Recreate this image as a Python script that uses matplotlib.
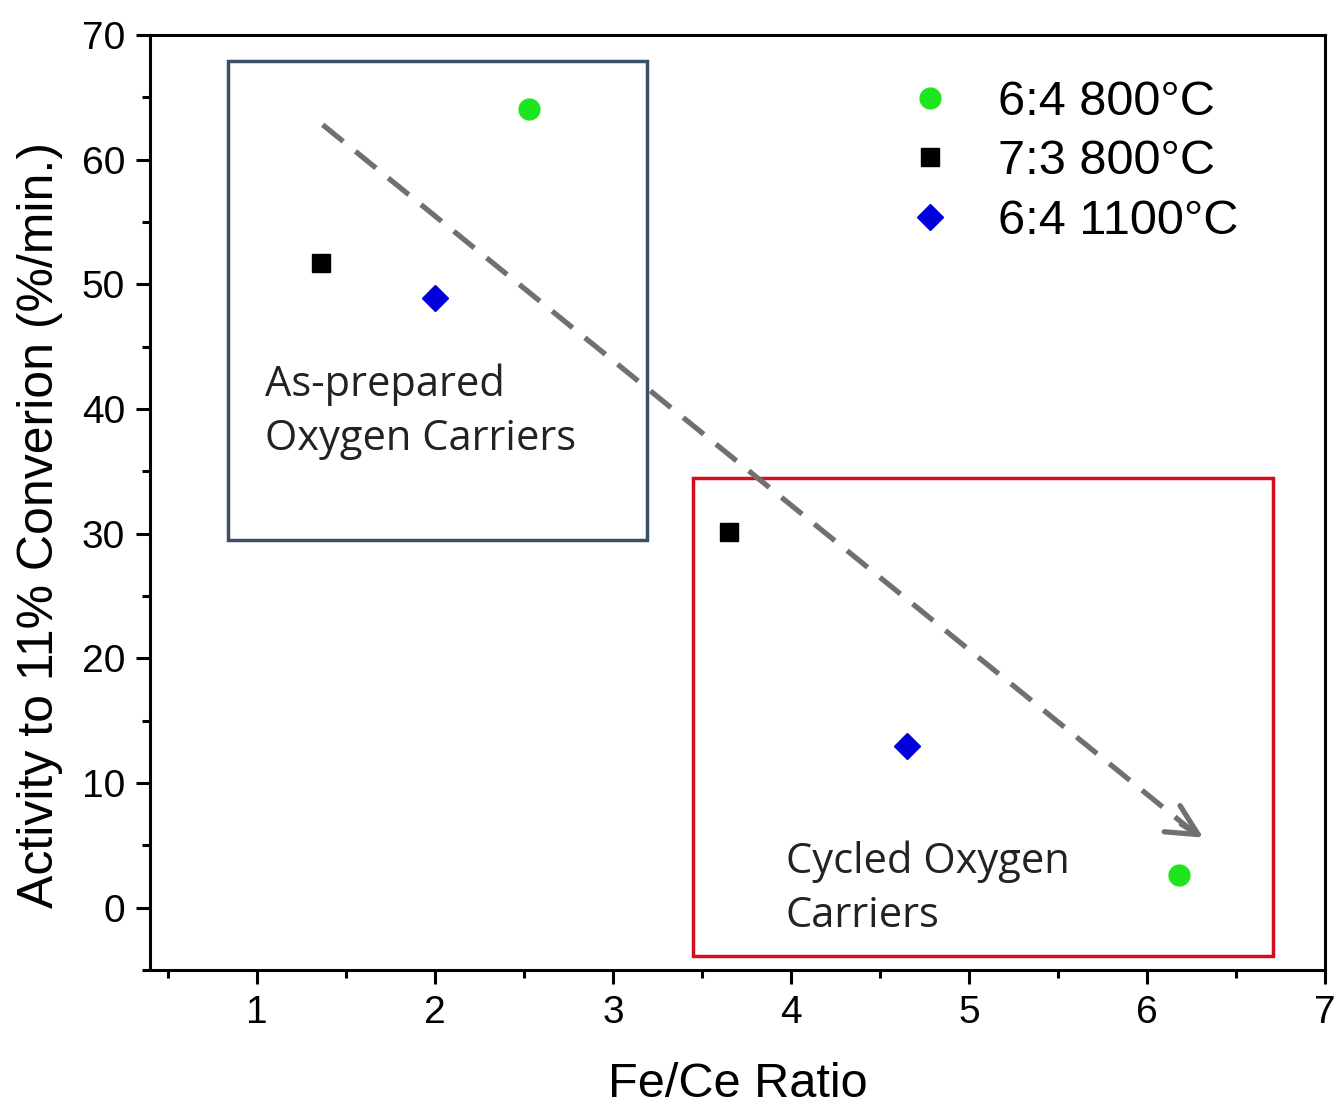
import numpy as np
from matplotlib import pyplot as plt
from matplotlib.patches import Rectangle
from matplotlib.ticker import MultipleLocator

# data
ratio_64_800 = [2.53, 6.18]
act_64_800 = [64.1, 2.6]
ratio_73_800 = [1.36, 3.65]
act_73_800 = [51.7, 30.1]
ratio_64_1100 = [2.0, 4.65]
act_64_1100 = [48.9, 13.0]

labels = ['6:4 800°C', '7:3 800°C', '6:4 1100°C']
xticks = [1, 2, 3, 4, 5, 6, 7]
yticks = [0, 10, 20, 30, 40, 50, 60, 70]

plt.rcParams['font.family'] = ['Liberation Sans', 'DejaVu Sans']

fig = plt.figure(figsize=(13.42, 11.19), dpi=100)
ax = fig.add_axes([0.1118, 0.1332, 0.8755, 0.8355])

ax.plot(ratio_64_800, act_64_800, 'o', color='#1ee61e', ms=15, ls='none', label=labels[0])
ax.plot(ratio_73_800, act_73_800, 's', color='black', ms=13, ls='none', label=labels[1])
ax.plot(ratio_64_1100, act_64_1100, 'D', color='#0000dd', ms=13, ls='none', label=labels[2])

# boxes around the two groups
ax.add_patch(Rectangle((0.84, 29.5), 2.35, 38.4, fill=False, ec='#3b4f66', lw=2.5, zorder=1))
ax.add_patch(Rectangle((3.45, -3.9), 3.26, 38.4, fill=False, ec='#d0101e', lw=2.5, zorder=1))

# trend arrow
ax.plot([1.37, 6.25], [62.8, 6.2], ls=(0, (5, 3)), color='#707070', lw=3.8, zorder=1)
ax.annotate('', xy=(6.33, 5.5), xytext=(6.18, 6.8),
            arrowprops=dict(arrowstyle='->', color='#707070', lw=3.8, mutation_scale=55))

ax.text(1.045, 39.8, 'As-prepared\nOxygen Carriers', fontsize=30, family=['Open Sans', 'DejaVu Sans'],
        color='#222222', va='center', ha='left', linespacing=1.38)
ax.text(3.97, 1.5, 'Cycled Oxygen\nCarriers', fontsize=30, family=['Open Sans', 'DejaVu Sans'],
        color='#222222', va='center', ha='left', linespacing=1.38)

ax.set_xlim(0.4, 7)
ax.set_ylim(-5, 70)
ax.set_xticks(xticks)
ax.set_yticks(yticks)
ax.xaxis.set_minor_locator(MultipleLocator(0.5))
ax.yaxis.set_minor_locator(MultipleLocator(5))
ax.tick_params(which='major', direction='out', length=10, width=2.2, labelsize=28, pad=8)
ax.tick_params(which='minor', direction='out', length=6, width=2.2)
for s in ax.spines.values():
    s.set_linewidth(2.2)

ax.set_xlabel('Fe/Ce Ratio', fontsize=35, labelpad=22)
ax.set_ylabel('Activity to 11% Converion (%/min.)', fontsize=36)
ax.yaxis.set_label_coords(-0.074, 0.476)

ax.legend(loc='upper left', bbox_to_anchor=(0.5855, 0.999), frameon=False, fontsize=35,
          handletextpad=0.4, labelspacing=0.3, markerscale=1.0)

fig.savefig('out.png', dpi=100)
